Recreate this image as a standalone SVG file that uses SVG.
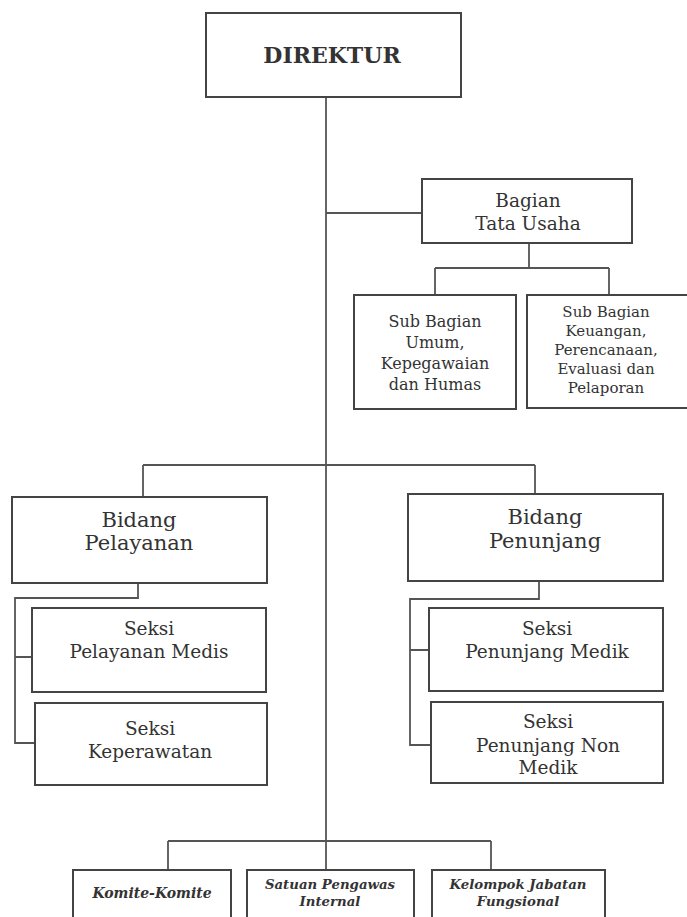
<svg xmlns="http://www.w3.org/2000/svg" width="687" height="917" viewBox="0 0 687 917">
<style>
.box{fill:#fff;stroke:#444;stroke-width:2}
.ln{fill:none;stroke:#555;stroke-width:1.8}
text{font-family:"DejaVu Serif","Liberation Serif",serif;fill:#333;text-anchor:middle}
.t20{font-size:21px}
.t17{font-size:18.5px}
.t15{font-size:16px}
.t13{font-size:15px}
.bi{font-size:14px;font-weight:bold;font-style:italic}
.bs{font-size:13.3px;font-weight:bold;font-style:italic}
</style>
<rect width="687" height="917" fill="#fff"/>
<g id="connectors">
<path class="ln" d="M326 97V870"/>
<path class="ln" d="M326 213H422"/>
<path class="ln" d="M529 243V268M435 268H609M435 268V295M609 268V295"/>
<path class="ln" d="M143 465H535M143 465V497M535 465V494"/>
<path class="ln" d="M138 583V598H15V743H35M15 657H32"/>
<path class="ln" d="M539 581V599H410V745H431M410 650H429"/>
<path class="ln" d="M168 841H491M168 841V870M491 841V870"/>
</g>
<g id="direktur"><rect class="box" x="206" y="13" width="255" height="84"/><text x="332" y="63" style="font-size:22px;font-weight:bold">DIREKTUR</text></g>
<g id="tata-usaha"><rect class="box" x="422" y="179" width="210" height="64"/><text class="t17" x="528" y="207">Bagian</text><text class="t17" x="528" y="230">Tata Usaha</text></g>
<g id="sub-umum"><rect class="box" x="354" y="295" width="162" height="114"/><text class="t15" x="435" y="327">Sub Bagian</text><text class="t15" x="435" y="348">Umum,</text><text class="t15" x="435" y="369">Kepegawaian</text><text class="t15" x="435" y="390">dan Humas</text></g>
<g id="sub-keuangan"><rect class="box" x="527" y="295" width="170" height="113"/><text class="t13" x="606" y="317">Sub Bagian</text><text class="t13" x="606" y="336">Keuangan,</text><text class="t13" x="606" y="355">Perencanaan,</text><text class="t13" x="606" y="374">Evaluasi dan</text><text class="t13" x="606" y="393">Pelaporan</text></g>
<g id="bidang-pelayanan"><rect class="box" x="12" y="497" width="255" height="86"/><text class="t20" x="139" y="527">Bidang</text><text class="t20" x="139" y="550">Pelayanan</text></g>
<g id="bidang-penunjang"><rect class="box" x="408" y="494" width="255" height="87"/><text class="t20" x="545" y="524">Bidang</text><text class="t20" x="545" y="548">Penunjang</text></g>
<g id="seksi-medis"><rect class="box" x="32" y="608" width="234" height="84"/><text class="t17" x="149" y="635">Seksi</text><text class="t17" x="149" y="658">Pelayanan Medis</text></g>
<g id="seksi-keperawatan"><rect class="box" x="35" y="703" width="232" height="82"/><text class="t17" x="150" y="735">Seksi</text><text class="t17" x="150" y="758">Keperawatan</text></g>
<g id="seksi-penunjang-medik"><rect class="box" x="429" y="608" width="234" height="83"/><text class="t17" x="547" y="635">Seksi</text><text class="t17" x="547" y="658">Penunjang Medik</text></g>
<g id="seksi-penunjang-non-medik"><rect class="box" x="431" y="702" width="232" height="81"/><text class="t17" x="548" y="728">Seksi</text><text class="t17" x="548" y="752">Penunjang Non</text><text class="t17" x="548" y="774">Medik</text></g>
<g id="komite"><rect class="box" x="73" y="870" width="158" height="60"/><text class="bi" x="152" y="898">Komite-Komite</text></g>
<g id="spi"><rect class="box" x="247" y="870" width="167" height="60"/><text class="bs" x="330" y="889">Satuan Pengawas</text><text class="bs" x="330" y="906">Internal</text></g>
<g id="kjf"><rect class="box" x="432" y="870" width="173" height="60"/><text class="bs" x="518" y="889">Kelompok Jabatan</text><text class="bs" x="518" y="906">Fungsional</text></g>
</svg>
